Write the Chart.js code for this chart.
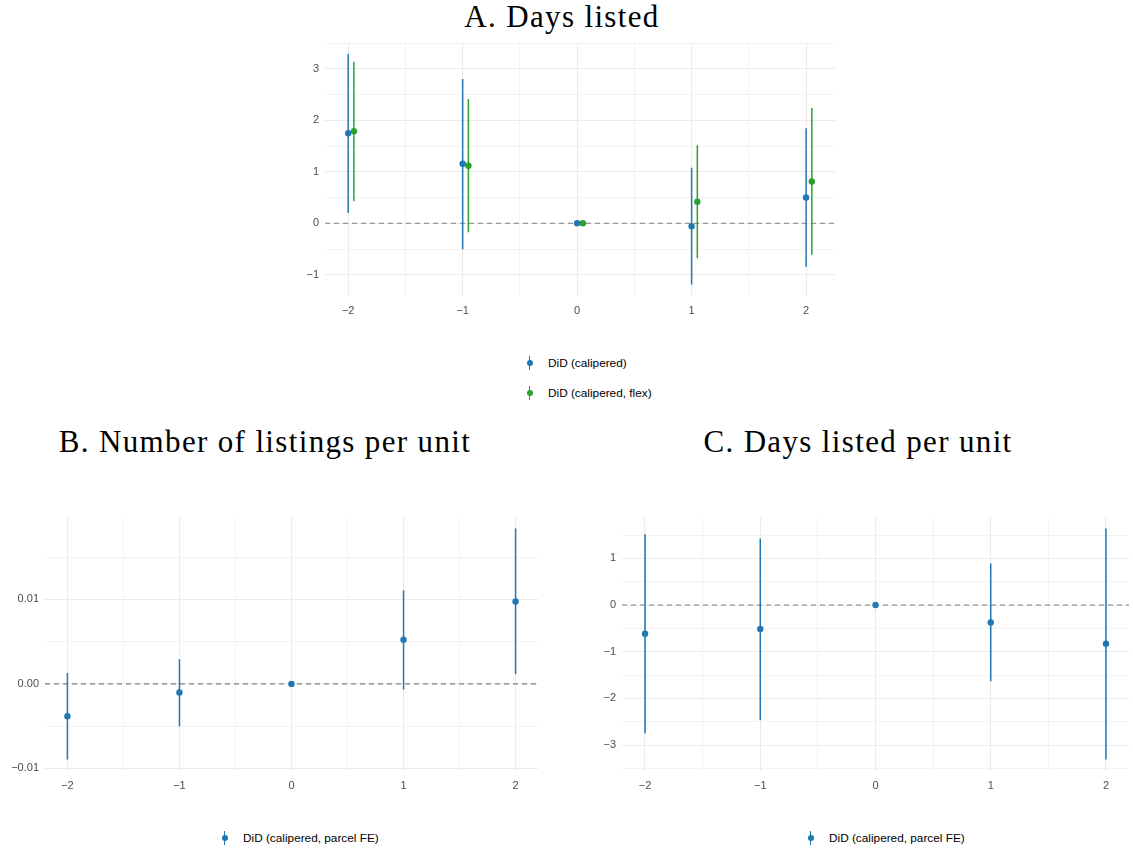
<!DOCTYPE html>
<html>
<head>
<meta charset="utf-8">
<script src="https://cdn.jsdelivr.net/npm/chart.js@4.4.1/dist/chart.umd.min.js"></script>
<style>
  body { margin: 0; background: #fff; width: 1133px; height: 851px; position: relative; overflow: hidden; }
  canvas { position: absolute; }
  .title { position: absolute; font-family: "Liberation Serif", "DejaVu Serif", serif; font-size: 31px; letter-spacing: 1.35px; color: #000; text-align: center; white-space: nowrap; line-height: 34px; }
  .legend { position: absolute; font-family: "Liberation Sans", Arial, sans-serif; font-size: 11.8px; color: #000; }
  .item { position: relative; height: 30px; line-height: 14px; padding-left: 22px; white-space: nowrap; }
  .icon { position: absolute; left: 0; top: 0; width: 7px; height: 14px; }
  .icon .bar { position: absolute; left: 2.8px; top: 0; width: 1.5px; height: 14px; }
  .icon .dot { position: absolute; left: 0.5px; top: 4px; width: 6.4px; height: 6.4px; border-radius: 50%; }
</style>
</head>
<body>
<div class="title" style="left:362px; width:400px; top:0px;">A. Days listed</div>
<div class="title" style="left:15px; width:500px; top:425px;">B. Number of listings per unit</div>
<div class="title" style="left:608px; width:500px; top:425px;">C. Days listed per unit</div>

<canvas id="chartA" width="570" height="300" style="left:280px; top:30px;"></canvas>
<canvas id="chartB" width="560" height="300" style="left:0px; top:500px;"></canvas>
<canvas id="chartC" width="563" height="300" style="left:570px; top:500px;"></canvas>

<div class="legend" style="left:526px; top:356px;">
  <div class="item"><span class="icon"><span class="bar" style="background:#1f77b4"></span><span class="dot" style="background:#1f77b4"></span></span>DiD (calipered)</div>
  <div class="item"><span class="icon"><span class="bar" style="background:#2ca02c"></span><span class="dot" style="background:#2ca02c"></span></span>DiD (calipered, flex)</div>
</div>
<div class="legend" style="left:221px; top:831px;">
  <div class="item"><span class="icon"><span class="bar" style="background:#1f77b4"></span><span class="dot" style="background:#1f77b4"></span></span>DiD (calipered, parcel FE)</div>
</div>
<div class="legend" style="left:807px; top:831px;">
  <div class="item"><span class="icon"><span class="bar" style="background:#1f77b4"></span><span class="dot" style="background:#1f77b4"></span></span>DiD (calipered, parcel FE)</div>
</div>

<script>
// event time (periods relative to treatment)
const periods = [-2, -1, 0, 1, 2];
const xMajor = [-2, -1, 0, 1, 2];
const xMinor = [-1.5, -0.5, 0.5, 1.5];

// A. Days listed
const aCalEst  = [1.75, 1.157, 0, -0.058, 0.504];
const aCalLo   = [0.20, -0.504, 0, -1.19, -0.847];
const aCalHi   = [3.29, 2.805, 0, 1.08, 1.85];
const aFlexEst = [1.79, 1.118, 0, 0.42, 0.814];
const aFlexLo  = [0.427, -0.175, 0, -0.679, -0.614];
const aFlexHi  = [3.14, 2.418, 0, 1.519, 2.243];
const flexShift = 0.05;
const aYMajor = [-1, 0, 1, 2, 3];
const aYMinor = [-0.5, 0.5, 1.5, 2.5, 3.5];

// B. Number of listings per unit
const bEst = [-0.00382, -0.00102, 0, 0.00524, 0.00976];
const bLo  = [-0.00894, -0.005, 0, -0.00067, 0.00114];
const bHi  = [0.0013, 0.00291, 0, 0.0111, 0.01839];
const bYMajor = [-0.01, 0, 0.01];
const bYMinor = [-0.005, 0.005, 0.015];

// C. Days listed per unit
const cEst = [-0.613, -0.513, 0, -0.371, -0.827];
const cLo  = [-2.744, -2.466, 0, -1.632, -3.307];
const cHi  = [1.518, 1.425, 0, 0.891, 1.639];
const cYMajor = [-3, -2, -1, 0, 1];
const cYMinor = [-3.5, -2.5, -1.5, -0.5, 0.5, 1.5];

const BLUE = '#1f77b4';
const GREEN = '#2ca02c';
const GRID = '#ebebeb';

function minus(s) { return s.replace('-', '\u2212'); }
const fmtInt = v => minus(String(Math.round(v)));
const fmt2 = v => minus(v.toFixed(2));

function expand(vals) {
  const lo = Math.min(...vals), hi = Math.max(...vals);
  const pad = (hi - lo) * 0.05;
  return [lo - pad, hi + pad];
}

function isMajor(v, majors) {
  return majors.some(m => Math.abs(m - v) < 1e-9);
}

function makePanel(id, series, yMajor, yMinor, yFmt, box) {
  const xs = [], ys = [];
  series.forEach(s => {
    periods.forEach((p, i) => {
      xs.push(p + s.shift);
      ys.push(s.lo[i], s.hi[i], s.est[i]);
    });
  });
  const [xMin, xMax] = expand(xs);
  const [yMin, yMax] = expand(ys);

  const datasets = [{
    data: [{ x: xMin, y: 0 }, { x: xMax, y: 0 }],
    showLine: true, borderColor: '#7f7f7f', borderWidth: 1.1,
    borderDash: [5, 4], pointRadius: 0, order: 10
  }];
  series.forEach(s => {
    const bars = [];
    periods.forEach((p, i) => {
      bars.push({ x: p + s.shift, y: s.lo[i] }, { x: p + s.shift, y: s.hi[i] }, { x: p + s.shift, y: null });
    });
    datasets.push({
      data: bars, showLine: true, spanGaps: false, borderColor: s.color,
      borderWidth: 1.5, pointRadius: 0, order: 5
    });
    datasets.push({
      data: periods.map((p, i) => ({ x: p + s.shift, y: s.est[i] })),
      backgroundColor: s.color, borderColor: s.color, borderWidth: 0,
      pointRadius: 3.2, order: 1
    });
  });

  const tickFont = { family: 'Liberation Sans, Arial, sans-serif', size: 11 };
  const gridOpt = majors => ({
    drawTicks: false,
    color: GRID,
    lineWidth: ctx => isMajor(ctx.tick.value, majors) ? 1.1 : 0.6
  });

  new Chart(document.getElementById(id), {
    type: 'scatter',
    data: { datasets },
    options: {
      responsive: false, animation: false, events: [],
      layout: { padding: { top: box.top, right: box.right, left: 0, bottom: 0 } },
      plugins: { legend: { display: false }, tooltip: { enabled: false } },
      scales: {
        x: {
          type: 'linear', min: xMin, max: xMax,
          border: { display: false },
          grid: gridOpt(xMajor),
          afterBuildTicks: sc => { sc.ticks = xMajor.concat(xMinor).sort((a, b) => a - b).map(v => ({ value: v })); },
          afterFit: sc => { sc.height = box.xh; },
          ticks: {
            autoSkip: false, maxRotation: 0, padding: 8, color: '#4d4d4d', font: tickFont,
            callback: v => isMajor(v, xMajor) ? fmtInt(v) : ''
          }
        },
        y: {
          type: 'linear', min: yMin, max: yMax,
          border: { display: false },
          grid: gridOpt(yMajor),
          afterBuildTicks: sc => { sc.ticks = yMajor.concat(yMinor).filter(v => v >= yMin && v <= yMax).sort((a, b) => a - b).map(v => ({ value: v })); },
          afterFit: sc => { sc.width = box.yw; },
          ticks: {
            autoSkip: false, padding: 6, color: '#4d4d4d', font: tickFont,
            callback: v => isMajor(v, yMajor) ? yFmt(v) : ''
          }
        }
      }
    }
  });
}

makePanel('chartA', [
  { est: aCalEst, lo: aCalLo, hi: aCalHi, color: BLUE, shift: 0 },
  { est: aFlexEst, lo: aFlexLo, hi: aFlexHi, color: GREEN, shift: flexShift }
], aYMajor, aYMinor, fmtInt, { top: 12, right: 15, yw: 45, xh: 34 });

makePanel('chartB', [
  { est: bEst, lo: bLo, hi: bHi, color: BLUE, shift: 0 }
], bYMajor, bYMinor, fmt2, { top: 17, right: 22, yw: 45, xh: 29 });

makePanel('chartC', [
  { est: cEst, lo: cLo, hi: cHi, color: BLUE, shift: 0 }
], cYMajor, cYMinor, fmtInt, { top: 17, right: 1, yw: 52, xh: 29 });
</script>
</body>
</html>
